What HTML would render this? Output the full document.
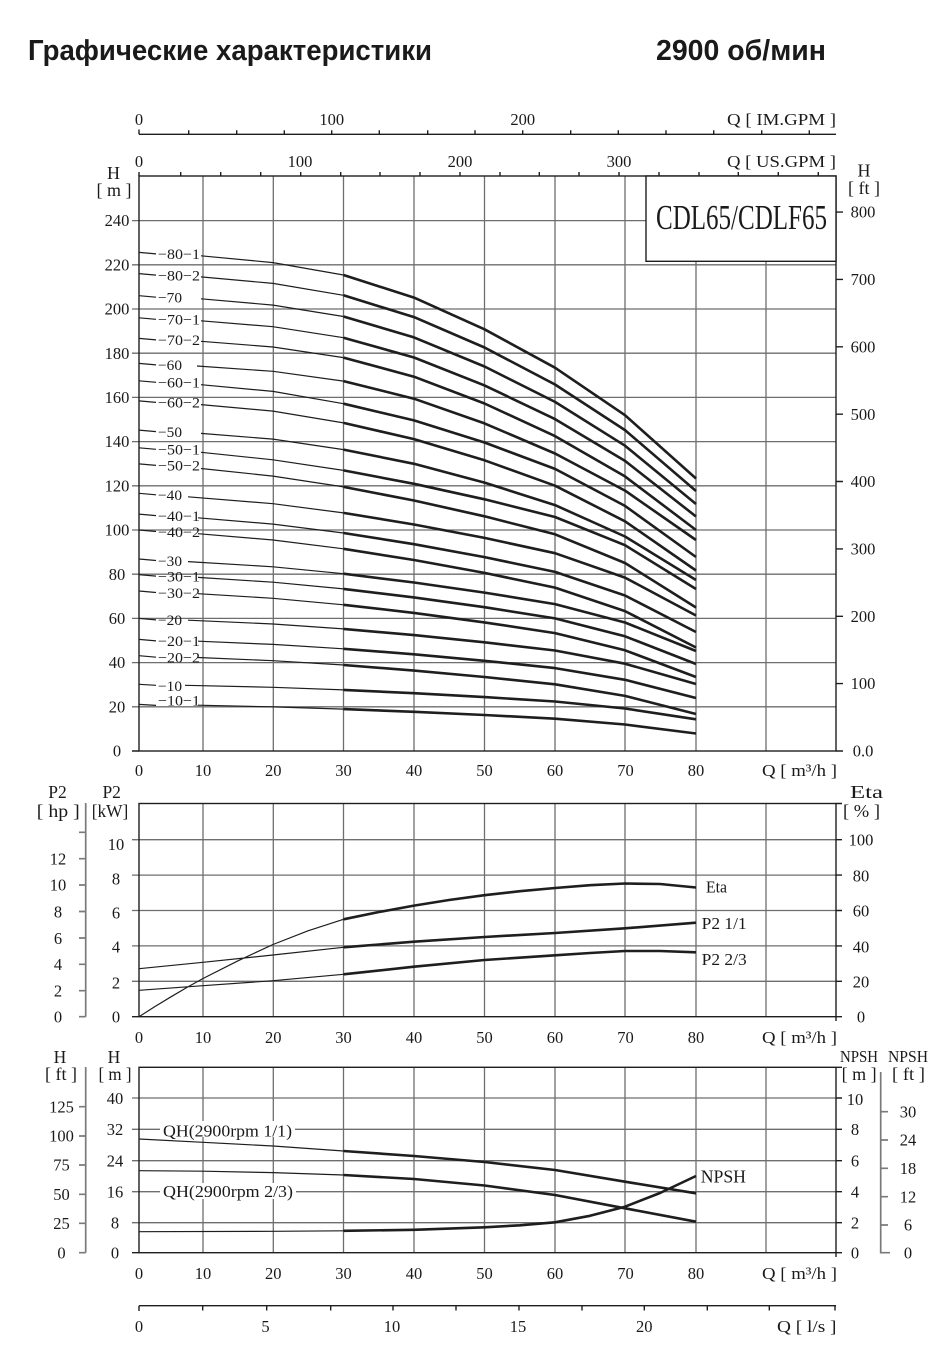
<!DOCTYPE html>
<html><head><meta charset="utf-8">
<style>
html,body{margin:0;padding:0;background:#fff}
svg{display:block}
text{font-family:"Liberation Serif",serif;fill:#1a1a1a;font-size:16.5px}
.g{stroke:#6e6e6e;stroke-width:1.3;fill:none}
.f{stroke:#1e1e1e;stroke-width:1.4;fill:none}
.t{fill:none;stroke:#1e1e1e;stroke-width:1.2;stroke-linejoin:round}
.k{fill:none;stroke:#1e1e1e;stroke-width:2.6;stroke-linejoin:round}
.ax{stroke:#7a7a7a;stroke-width:1.7;fill:none}
.lb{font-size:15px}
.m{text-anchor:middle}
</style></head><body>
<svg width="950" height="1365" viewBox="0 0 950 1365" xmlns="http://www.w3.org/2000/svg">
<rect x="0" y="0" width="950" height="1365" fill="#fff"/>

<!-- Title -->
<text x="28" y="60" style="font-family:'Liberation Sans',sans-serif;font-weight:bold;font-size:29px" textLength="404" lengthAdjust="spacingAndGlyphs">Графические характеристики</text>
<text x="656" y="60" style="font-family:'Liberation Sans',sans-serif;font-weight:bold;font-size:29px" textLength="170" lengthAdjust="spacingAndGlyphs">2900 об/мин</text>

<!-- IM.GPM axis -->
<path class="f" d="M139 134.3H836"/>
<path class="f" d="M139 129.5V134.3M188.7 130.3V134.3M236.7 130.3V134.3M284.3 130.3V134.3M331.7 130.3V134.3M379.3 130.3V134.3M427.7 130.3V134.3M475 130.3V134.3M522.7 130.3V134.3M570.7 130.3V134.3M618.3 130.3V134.3M666 130.3V134.3M713.7 130.3V134.3M761.7 130.3V134.3M809.3 130.3V134.3"/>
<text class="m" x="139" y="125">0</text>
<text class="m" x="331.7" y="125">100</text>
<text class="m" x="522.7" y="125">200</text>
<text x="727" y="125" textLength="109" lengthAdjust="spacingAndGlyphs">Q  [ IM.GPM ]</text>

<!-- US.GPM axis -->
<path class="f" d="M139 172V176M180.7 172V176M220.7 172V176M260.7 172V176M300.7 172V176M340.7 172V176M380 172V176M420 172V176M460 172V176M500 172V176M539.3 172V176M579 172V176M619 172V176M659 172V176M699 172V176M738.3 172V176M778.3 172V176M818.3 172V176"/>
<text class="m" x="139" y="167">0</text>
<text class="m" x="300" y="167">100</text>
<text class="m" x="460" y="167">200</text>
<text class="m" x="619" y="167">300</text>
<text x="727" y="167" textLength="109" lengthAdjust="spacingAndGlyphs">Q  [ US.GPM ]</text>

<!-- Main chart grid -->
<path class="g" d="M132 706.8H836M132 662.6H836M132 618.4H836M132 574.2H836M132 530H836M132 485.8H836M132 441.6H836M132 397.4H836M132 353.2H836M132 309H836M132 264.8H836M132 220.6H836"/>
<path class="g" d="M203 176V751M273.3 176V751M343.5 176V751M414 176V751M484.5 176V751M555 176V751M625 176V751M696 176V751M766 176V751"/>
<rect class="f" x="139" y="176" width="697" height="575"/>
<path class="f" d="M132 751H139M836 212.1H843M836 279.4H843M836 346.8H843M836 414.2H843M836 481.5H843M836 548.9H843M836 616.3H843M836 683.6H843M836 751H843"/>

<!-- Title box -->
<rect x="646" y="176" width="190" height="85.3" fill="#fff" stroke="#1e1e1e" stroke-width="1.4"/>
<text x="656" y="229" style="font-size:35px" textLength="171" lengthAdjust="spacingAndGlyphs">CDL65/CDLF65</text>

<!-- Main axis titles -->
<text class="m" x="113.5" y="179" style="font-size:18px">H</text>
<text class="m" x="114" y="196" style="font-size:18px" textLength="35" lengthAdjust="spacingAndGlyphs">[ m ]</text>
<text class="m" x="864" y="176.5" style="font-size:18px">H</text>
<text class="m" x="864" y="194" style="font-size:18px" textLength="32" lengthAdjust="spacingAndGlyphs">[ ft ]</text>

<!-- Main left labels -->
<text class="m" x="117" y="756.6">0</text>
<text class="m" x="117" y="712.4">20</text>
<text class="m" x="117" y="668.2">40</text>
<text class="m" x="117" y="624">60</text>
<text class="m" x="117" y="579.8">80</text>
<text class="m" x="117" y="535.6">100</text>
<text class="m" x="117" y="491.4">120</text>
<text class="m" x="117" y="447.2">140</text>
<text class="m" x="117" y="403">160</text>
<text class="m" x="117" y="358.8">180</text>
<text class="m" x="117" y="314.6">200</text>
<text class="m" x="117" y="270.4">220</text>
<text class="m" x="117" y="226.2">240</text>
<!-- Main right labels -->
<text class="m" x="863" y="756.6">0.0</text>
<text class="m" x="863" y="689.2">100</text>
<text class="m" x="863" y="621.9">200</text>
<text class="m" x="863" y="554.5">300</text>
<text class="m" x="863" y="487.1">400</text>
<text class="m" x="863" y="419.8">500</text>
<text class="m" x="863" y="352.4">600</text>
<text class="m" x="863" y="285">700</text>
<text class="m" x="863" y="217.7">800</text>

<!-- Main bottom labels -->
<text class="m" x="139" y="776">0</text>
<text class="m" x="203" y="776">10</text>
<text class="m" x="273.3" y="776">20</text>
<text class="m" x="343.5" y="776">30</text>
<text class="m" x="414" y="776">40</text>
<text class="m" x="484.5" y="776">50</text>
<text class="m" x="555" y="776">60</text>
<text class="m" x="625.5" y="776">70</text>
<text class="m" x="696" y="776">80</text>
<text x="762" y="776" style="font-size:17px" textLength="75" lengthAdjust="spacingAndGlyphs">Q  [ m³/h ]</text>

<!-- Main curves thin -->
<path class="t" d="M139 252.4L156 253.9M201 255.8L273 262.6L343.5 275
M139 273.6L156 275.1M201 276.9L273 283.4L343.5 295.3
M139 295.7L156 297.2M201 298.8L273 305.1L343.5 316.5
M139 317.8L156 319.3M201 320.8L273 326.7L343.5 337.7
M139 338.4L156 339.9M201 341.3L273 347L343.5 357.6
M139 363.4L156 364.9M197 366L273 371.3L343.5 381.1
M139 380.8L156 382.3M201 384.7L273 391.4L343.5 403.7
M139 400.9L156 402.4M201 404.6L273 411.1L343.5 422.9
M139 430.1L156 431.6M201 433.4L273 439.1L343.5 449.6
M139 447.8L156 449.3M201 452.3L273 459.8L343.5 470.4
M139 463.9L156 465.4M201 468.5L273 476.1L343.5 486.9
M139 493.3L156 494.8M188 496.8L273 503.7L343.5 512.9
M139 514.1L156 515.6M198 517.8L273 524.1L343.5 533
M139 530L156 531.5M198 533.7L273 540L343.5 548.8
M139 559L156 560.5M188 561.6L273 566.8L343.5 573.7
M139 574.6L156 576.1M198 577.4L273 582.2L343.5 588.9
M139 591L156 592.5M198 593.7L273 598.3L343.5 604.8
M139 618.4L156 619.9M188 620.2L273 624L343.5 628.9
M139 639.4L156 640.9M198 641.2L273 644.4L343.5 648.8
M139 655.7L156 657.2M198 657.5L273 660.7L343.5 665
M139 684.3L156 685.3M185 685.3L273 687.3L343.5 689.9
M139 704.4L156 705.4M198 705.2L273 706.9L343.5 709.1"/>
<!-- Main curves thick -->
<path class="k" d="M343.5 275L414 297.6L484.5 329.3L555 367.7L625 415.2L696 478.5
M343.5 295.3L414 317.1L484.5 347.5L555 384.5L625 430.1L696 491
M343.5 316.5L414 337.4L484.5 366.5L555 401.9L625 445.7L696 504
M343.5 337.7L414 357.5L484.5 385.4L555 419.1L625 460.9L696 516.5
M343.5 357.6L414 376.7L484.5 403.5L555 436.1L625 476.4L696 530
M343.5 381.1L414 398.7L484.5 423.4L555 453.5L625 490.6L696 540
M343.5 403.7L414 420.4L484.5 442.5L555 468.9L625 505.9L696 557
M343.5 422.9L414 439.1L484.5 460.3L555 485.7L625 521.3L696 570.5
M343.5 449.6L414 463.8L484.5 482.6L555 505.1L625 536.5L696 580
M343.5 470.4L414 483.8L484.5 499.3L555 517L625 545.2L696 589
M343.5 486.9L414 500.5L484.5 516.3L555 534.3L625 563L696 607.5
M343.5 512.9L414 524.5L484.5 537.9L555 553.2L625 577.6L696 615.5
M343.5 533L414 544.2L484.5 557.1L555 571.9L625 595.5L696 632
M343.5 548.8L414 560L484.5 572.9L555 587.6L625 611.1L696 647.5
M343.5 573.7L414 582.5L484.5 592.6L555 604.1L625 622.5L696 651
M343.5 588.9L414 597.4L484.5 607.2L555 618.4L625 636.3L696 664
M343.5 604.8L414 612.9L484.5 622.4L555 633.1L625 650.3L696 677
M343.5 628.9L414 635.1L484.5 642.3L555 650.5L625 663.7L696 684
M343.5 648.8L414 654.3L484.5 660.8L555 668.1L625 679.8L696 698
M343.5 665L414 670.6L484.5 677L555 684.3L625 695.9L696 714
M343.5 689.9L414 693.2L484.5 697.1L555 701.5L625 708.5L696 719.3
M343.5 709.1L414 711.8L484.5 715L555 718.7L625 724.5L696 733.5"/>

<!-- Curve labels -->
<text class="lb" x="158" y="259.2" textLength="42" lengthAdjust="spacingAndGlyphs">−80−1</text>
<text class="lb" x="158" y="280.4" textLength="42" lengthAdjust="spacingAndGlyphs">−80−2</text>
<text class="lb" x="158" y="302.5" textLength="24" lengthAdjust="spacingAndGlyphs">−70</text>
<text class="lb" x="158" y="324.6" textLength="42" lengthAdjust="spacingAndGlyphs">−70−1</text>
<text class="lb" x="158" y="345.2" textLength="42" lengthAdjust="spacingAndGlyphs">−70−2</text>
<text class="lb" x="158" y="370.2" textLength="24" lengthAdjust="spacingAndGlyphs">−60</text>
<text class="lb" x="158" y="387.6" textLength="42" lengthAdjust="spacingAndGlyphs">−60−1</text>
<text class="lb" x="158" y="407.7" textLength="42" lengthAdjust="spacingAndGlyphs">−60−2</text>
<text class="lb" x="158" y="436.9" textLength="24" lengthAdjust="spacingAndGlyphs">−50</text>
<text class="lb" x="158" y="454.6" textLength="42" lengthAdjust="spacingAndGlyphs">−50−1</text>
<text class="lb" x="158" y="470.7" textLength="42" lengthAdjust="spacingAndGlyphs">−50−2</text>
<text class="lb" x="158" y="500.1" textLength="24" lengthAdjust="spacingAndGlyphs">−40</text>
<text class="lb" x="158" y="520.9" textLength="42" lengthAdjust="spacingAndGlyphs">−40−1</text>
<text class="lb" x="158" y="536.8" textLength="42" lengthAdjust="spacingAndGlyphs">−40−2</text>
<text class="lb" x="158" y="565.8" textLength="24" lengthAdjust="spacingAndGlyphs">−30</text>
<text class="lb" x="158" y="581.4" textLength="42" lengthAdjust="spacingAndGlyphs">−30−1</text>
<text class="lb" x="158" y="597.8" textLength="42" lengthAdjust="spacingAndGlyphs">−30−2</text>
<text class="lb" x="158" y="625.2" textLength="24" lengthAdjust="spacingAndGlyphs">−20</text>
<text class="lb" x="158" y="646.2" textLength="42" lengthAdjust="spacingAndGlyphs">−20−1</text>
<text class="lb" x="158" y="662.5" textLength="42" lengthAdjust="spacingAndGlyphs">−20−2</text>
<text class="lb" x="158" y="691.1" textLength="24" lengthAdjust="spacingAndGlyphs">−10</text>
<text class="lb" x="158" y="705.3" textLength="42" lengthAdjust="spacingAndGlyphs">−10−1</text>

<!-- ===== Chart 2 (P2 / Eta) ===== -->
<path class="g" d="M132 839.7H836M132 875.1H836M132 910.5H836M132 945.9H836M132 981.3H836"/>
<path class="g" d="M203 803.5V1016.7M273.3 803.5V1016.7M343.5 803.5V1016.7M414 803.5V1016.7M484.5 803.5V1016.7M555 803.5V1016.7M625 803.5V1016.7M696 803.5V1016.7M766 803.5V1016.7"/>
<rect class="f" x="139" y="803.5" width="697" height="213.2"/>
<path class="f" d="M132 1016.7H139M836 803.5H842M836 839.7H842M836 875.1H842M836 910.5H842M836 945.9H842M836 981.3H842M836 1016.7H842M836 1016.7V1021"/>
<path class="ax" d="M85.7 803V1016.7M79 832.3H85.7M79 858.7H85.7M79 885H85.7M79 911.5H85.7M79 938H85.7M79 964.3H85.7M79 990.7H85.7M79 1016.7H85.7"/>

<text class="m" x="57.5" y="798" style="font-size:17.5px">P2</text>
<text class="m" x="58.3" y="817" style="font-size:17.5px" textLength="43" lengthAdjust="spacingAndGlyphs">[ hp ]</text>
<text class="m" x="111.7" y="798" style="font-size:17.5px">P2</text>
<text class="m" x="110" y="817" style="font-size:17.5px" textLength="36.6" lengthAdjust="spacingAndGlyphs">[kW]</text>
<text class="m" x="866.5" y="798" style="font-size:17.5px" textLength="33" lengthAdjust="spacingAndGlyphs">Eta</text>
<text class="m" x="861.5" y="817" style="font-size:17.5px" textLength="37" lengthAdjust="spacingAndGlyphs">[ % ]</text>

<text class="m" x="58" y="864.6">12</text>
<text class="m" x="58" y="890.6">10</text>
<text class="m" x="58" y="917.3">8</text>
<text class="m" x="58" y="943.9">6</text>
<text class="m" x="58" y="969.9">4</text>
<text class="m" x="58" y="996.3">2</text>
<text class="m" x="58" y="1022.3">0</text>

<text class="m" x="116" y="849.8">10</text>
<text class="m" x="116" y="884.3">8</text>
<text class="m" x="116" y="918.5">6</text>
<text class="m" x="116" y="952.5">4</text>
<text class="m" x="116" y="988.3">2</text>
<text class="m" x="116" y="1022.3">0</text>

<text class="m" x="861" y="845.6">100</text>
<text class="m" x="861" y="881.5">80</text>
<text class="m" x="861" y="916.6">60</text>
<text class="m" x="861" y="952.3">40</text>
<text class="m" x="861" y="987.3">20</text>
<text class="m" x="861" y="1022.3">0</text>

<text class="m" x="139" y="1042.8">0</text>
<text class="m" x="203" y="1042.8">10</text>
<text class="m" x="273.3" y="1042.8">20</text>
<text class="m" x="343.5" y="1042.8">30</text>
<text class="m" x="414" y="1042.8">40</text>
<text class="m" x="484.5" y="1042.8">50</text>
<text class="m" x="555" y="1042.8">60</text>
<text class="m" x="625.5" y="1042.8">70</text>
<text class="m" x="696" y="1042.8">80</text>
<text x="762" y="1042.8" style="font-size:17px" textLength="75" lengthAdjust="spacingAndGlyphs">Q  [ m³/h ]</text>

<path class="t" d="M139 1016.7L155 1006.5L171 996.8L187 987.4L203 978.5L238 960.8L273 944.5L308 930.8L343.5 919.3
M139 968.7L203 962.3L273 955L343.5 947.3
M139 990.3L203 985.7L273 980.7L343.5 974.3"/>
<path class="k" d="M343.5 919.3L379 912L414 905.6L449 900L484.5 895.2L520 891.2L555 888L590 885.2L625 883.5L660 884L696 887.5
M343.5 947.3L414 941.7L484.5 937L555 933L625 928.3L696 922.7
M343.5 974.3L414 966.7L484.5 960L555 955.3L590 953L625 951L660 951L696 952.3"/>
<text x="706" y="892.5" style="font-size:17px" textLength="21" lengthAdjust="spacingAndGlyphs">Eta</text>
<text x="701.7" y="929" style="font-size:17px" textLength="45" lengthAdjust="spacingAndGlyphs">P2  1/1</text>
<text x="701.7" y="965" style="font-size:17px" textLength="45" lengthAdjust="spacingAndGlyphs">P2  2/3</text>

<!-- ===== Chart 3 (QH / NPSH) ===== -->
<path class="g" d="M132 1098H836M132 1129.3H836M132 1160.7H836M132 1191.7H836M132 1222.7H836"/>
<path class="g" d="M203 1067.3V1252.7M273.3 1067.3V1252.7M343.5 1067.3V1252.7M414 1067.3V1252.7M484.5 1067.3V1252.7M555 1067.3V1252.7M625 1067.3V1252.7M696 1067.3V1252.7M766 1067.3V1252.7"/>
<rect class="f" x="139" y="1067.3" width="697" height="185.4"/>
<path class="f" d="M132 1252.7H139M836 1067.3H842M836 1098H842M836 1129.3H842M836 1160.7H842M836 1191.7H842M836 1222.7H842M836 1252.7H842M836 1252.7V1257"/>
<path class="ax" d="M85.7 1067V1252.7M79 1106.7H85.7M79 1136H85.7M79 1165H85.7M79 1194.3H85.7M79 1223.3H85.7M79 1252.7H85.7"/>
<path class="ax" d="M880.7 1072V1252.7H890M880.7 1111.7H888M880.7 1140H888M880.7 1168.3H888M880.7 1196.7H888M880.7 1225H888"/>

<text class="m" x="60" y="1063" style="font-size:17.5px">H</text>
<text class="m" x="61" y="1080" style="font-size:17.5px" textLength="32" lengthAdjust="spacingAndGlyphs">[ ft ]</text>
<text class="m" x="114" y="1063" style="font-size:17.5px">H</text>
<text class="m" x="115" y="1080" style="font-size:17.5px" textLength="33" lengthAdjust="spacingAndGlyphs">[ m ]</text>
<text class="m" x="859" y="1062" style="font-size:16.5px" textLength="38" lengthAdjust="spacingAndGlyphs">NPSH</text>
<text class="m" x="859.2" y="1080" style="font-size:17.5px" textLength="35" lengthAdjust="spacingAndGlyphs">[ m ]</text>
<text class="m" x="908" y="1062" style="font-size:16.5px" textLength="40" lengthAdjust="spacingAndGlyphs">NPSH</text>
<text class="m" x="908.5" y="1080" style="font-size:17.5px" textLength="33" lengthAdjust="spacingAndGlyphs">[ ft ]</text>

<text class="m" x="61.5" y="1112.3">125</text>
<text class="m" x="61.5" y="1141.6">100</text>
<text class="m" x="61.5" y="1170.6">75</text>
<text class="m" x="61.5" y="1199.9">50</text>
<text class="m" x="61.5" y="1228.9">25</text>
<text class="m" x="61.5" y="1258.3">0</text>

<text class="m" x="115" y="1103.8">40</text>
<text class="m" x="115" y="1134.9">32</text>
<text class="m" x="115" y="1166.3">24</text>
<text class="m" x="115" y="1197.3">16</text>
<text class="m" x="115" y="1228.3">8</text>
<text class="m" x="115" y="1258.3">0</text>

<text class="m" x="855" y="1104.9">10</text>
<text class="m" x="855" y="1134.9">8</text>
<text class="m" x="855" y="1166.3">6</text>
<text class="m" x="855" y="1197.3">4</text>
<text class="m" x="855" y="1228.3">2</text>
<text class="m" x="855" y="1258.3">0</text>

<text class="m" x="908" y="1117.3">30</text>
<text class="m" x="908" y="1145.6">24</text>
<text class="m" x="908" y="1173.9">18</text>
<text class="m" x="908" y="1202.3">12</text>
<text class="m" x="908" y="1230.6">6</text>
<text class="m" x="908" y="1258.3">0</text>

<rect x="160" y="1121" width="135" height="16" fill="#fff"/>
<rect x="160" y="1183" width="136" height="16" fill="#fff"/>
<text x="163" y="1136.5" style="font-size:17px" textLength="129" lengthAdjust="spacingAndGlyphs">QH(2900rpm 1/1)</text>
<text x="163" y="1197" style="font-size:17px" textLength="130" lengthAdjust="spacingAndGlyphs">QH(2900rpm 2/3)</text>

<path class="t" d="M139 1139L203 1142.3L273 1146L343.5 1151
M139 1170.7L203 1171.2L273 1172.6L343.5 1175
M139 1231.7L273 1231.3L343.5 1230.8"/>
<path class="k" d="M343.5 1151L414 1156L484.5 1162L555 1170L625 1181.7L696 1193.3
M343.5 1175L414 1179L484.5 1185.5L555 1195L625 1208.3L696 1221.7
M343.5 1230.8L414 1229.8L484.5 1227.3L520 1225.3L555 1222.3L590 1215.8L625 1206.7L660 1193L696 1176"/>
<text x="700.7" y="1182.7" style="font-size:18px" textLength="45.3" lengthAdjust="spacingAndGlyphs">NPSH</text>

<text class="m" x="139" y="1278.8">0</text>
<text class="m" x="203" y="1278.8">10</text>
<text class="m" x="273.3" y="1278.8">20</text>
<text class="m" x="343.5" y="1278.8">30</text>
<text class="m" x="414" y="1278.8">40</text>
<text class="m" x="484.5" y="1278.8">50</text>
<text class="m" x="555" y="1278.8">60</text>
<text class="m" x="625.5" y="1278.8">70</text>
<text class="m" x="696" y="1278.8">80</text>
<text x="762" y="1278.8" style="font-size:17px" textLength="75" lengthAdjust="spacingAndGlyphs">Q  [ m³/h ]</text>

<!-- l/s axis -->
<path class="f" d="M139 1305.7H836"/>
<path class="f" d="M139 1305.7V1311M202.7 1305.7V1310.5M266.7 1305.7V1310.5M330.7 1305.7V1310.5M393 1305.7V1310.5M456 1305.7V1310.5M519 1305.7V1310.5M582 1305.7V1310.5M644.3 1305.7V1310.5M707.3 1305.7V1310.5M769.3 1305.7V1310.5M835 1305.7V1310.5"/>
<text class="m" x="139" y="1331.8">0</text>
<text class="m" x="265.5" y="1331.8">5</text>
<text class="m" x="392" y="1331.8">10</text>
<text class="m" x="518" y="1331.8">15</text>
<text class="m" x="644.3" y="1331.8">20</text>
<text x="777" y="1331.8" style="font-size:17px" textLength="59.5" lengthAdjust="spacingAndGlyphs">Q  [ l/s ]</text>
</svg>
</body></html>
